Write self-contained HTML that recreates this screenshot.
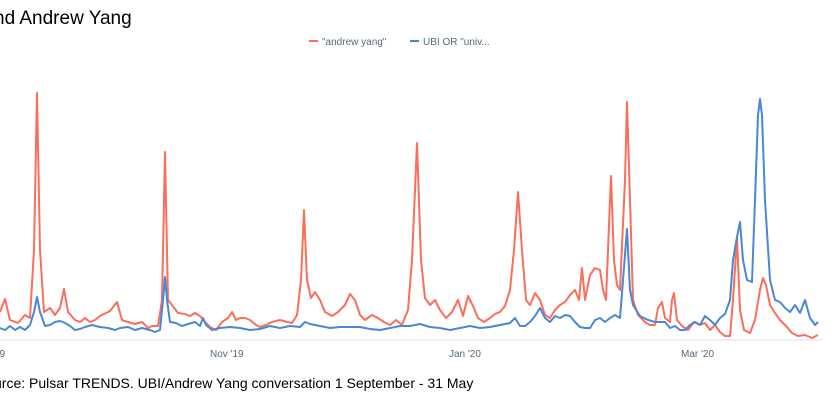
<!DOCTYPE html>
<html><head><style>
body{margin:0;background:#fff;width:840px;height:400px;overflow:hidden;font-family:"Liberation Sans",sans-serif;}
</style></head><body>
<svg width="840" height="400" xmlns="http://www.w3.org/2000/svg">
<text x="-6" y="24" font-size="19" fill="#000">nd Andrew Yang</text>
<line x1="309" y1="41" x2="318" y2="41" stroke="#fa6e5a" stroke-width="2"/>
<text x="322" y="45" font-size="10" fill="#55697a">"andrew yang"</text>
<line x1="410" y1="41" x2="419" y2="41" stroke="#4a87d6" stroke-width="2"/>
<text x="423" y="45" font-size="10" fill="#55697a">UBI OR "univ...</text>
<line x1="0" y1="340" x2="822" y2="340" stroke="#d8e0ea" stroke-width="1"/>
<text x="-8" y="357" font-size="10" fill="#55697a">'19</text>
<text x="210" y="357" font-size="10" fill="#55697a">Nov '19</text>
<text x="449" y="357" font-size="10" fill="#55697a">Jan '20</text>
<text x="681" y="357" font-size="10" fill="#55697a">Mar '20</text>
<text x="-6" y="388" font-size="14" fill="#000">urce: Pulsar TRENDS. UBI/Andrew Yang conversation 1 September - 31 May</text>
<polyline fill="none" stroke="#fa6e5a" stroke-width="2" stroke-linejoin="round" points="0,312 5,299 10,320 18,323 25,315 30,318 34,250 37,93 40,250 44,312 50,308 55,315 60,308 64,289 68,312 75,320 80,322 85,318 90,322 95,320 100,316 110,311 117,302 122,320 128,322 135,324 142,322 148,328 152,326 158,326 162,300 165,152 168,300 172,305 178,313 185,314 190,316 195,313 200,316 206,323 210,327 216,330 222,322 228,318 232,312 236,320 240,318 245,318 250,320 256,325 260,327 266,325 272,322 280,320 287,322 292,323 297,315 301,280 304,210 307,280 311,298 315,292 320,300 325,312 332,316 338,312 345,305 350,294 355,300 360,315 365,320 372,315 378,318 384,322 390,325 396,320 402,325 408,310 412,260 417,143 421,260 425,298 430,305 435,300 440,310 446,318 452,312 458,300 463,316 468,296 473,306 478,318 484,322 490,318 495,314 500,312 505,306 510,290 514,250 518,192 522,250 526,300 530,305 535,293 540,300 545,315 550,318 555,310 560,305 565,302 570,295 575,290 579,300 582,268 585,300 590,275 595,268 600,270 603,290 606,300 608,250 611,176 614,260 617,285 620,290 625,180 627,102 630,200 633,300 638,315 645,322 650,325 655,325 658,308 662,302 665,318 670,322 672,300 674,293 677,320 682,326 688,330 694,322 700,325 705,323 710,330 715,325 720,332 725,336 730,336 733,300 737,237 740,310 744,330 750,333 755,320 760,290 763,278 766,285 770,305 775,313 780,320 786,326 792,333 798,336 805,335 812,338 818,335"/>
<polyline fill="none" stroke="#4a87d6" stroke-width="2" stroke-linejoin="round" points="0,328 5,330 10,326 15,330 20,327 25,330 30,325 34,312 37,297 40,312 45,326 50,325 55,322 60,321 65,323 70,326 75,330 80,329 85,327 92,325 100,327 108,328 115,330 120,328 128,327 135,330 142,328 150,330 155,332 160,330 163,300 165,277 167,300 170,322 176,323 182,326 188,324 195,322 200,326 203,318 206,325 212,330 220,328 230,327 240,328 250,330 260,329 270,326 280,328 290,326 300,327 305,322 310,324 320,326 330,328 340,327 350,327 360,327 370,329 380,330 390,328 400,326 410,326 420,324 430,327 440,328 450,330 460,328 470,326 480,328 490,327 500,325 510,323 515,318 520,326 525,326 530,322 535,316 540,308 545,318 550,322 555,316 560,318 565,315 570,316 575,322 580,327 585,328 590,328 595,320 600,318 605,322 610,318 615,315 620,318 623,280 627,229 630,290 633,305 640,316 648,320 655,322 665,322 670,328 675,326 680,330 685,330 690,325 695,322 700,325 705,316 710,320 715,325 720,318 725,314 730,300 733,260 737,237 740,222 743,260 747,280 752,282 755,200 758,115 760,99 762,115 765,200 770,280 775,300 780,302 785,308 790,312 795,305 800,313 805,300 810,318 815,325 818,322"/>
</svg>
</body></html>
